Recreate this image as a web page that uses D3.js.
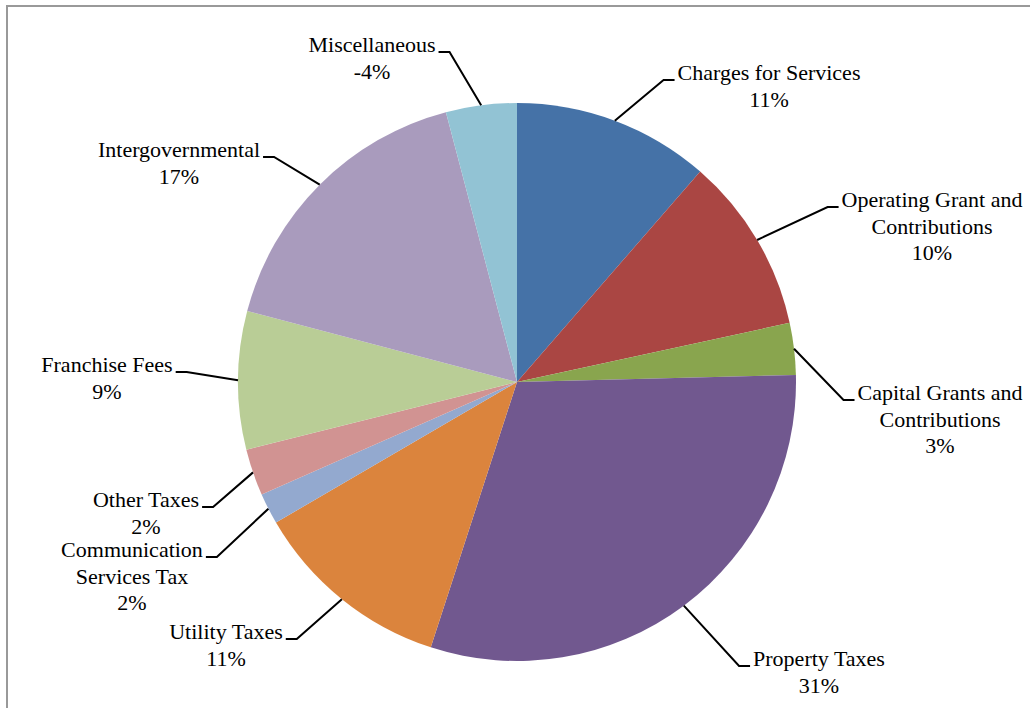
<!DOCTYPE html>
<html>
<head>
    <meta charset="UTF-8">
    <script src="https://cdnjs.cloudflare.com/ajax/libs/d3/7.8.5/d3.js"></script>
</head>
<body style="margin:0">
    <svg width="1030" height="708"></svg>

    <script>
        // slices clockwise from 12 o'clock
        const categories = [
            "Charges for Services", "Operating Grant and Contributions", "Capital Grants and Contributions",
            "Property Taxes", "Utility Taxes", "Communication Services Tax", "Other Taxes",
            "Franchise Fees", "Intergovernmental", "Miscellaneous"
        ];
        const shares = [11.4, 10.2, 3.0, 30.4, 11.6, 1.8, 2.7, 8.0, 16.8, -4.1];
        const pctLabels = ["11%", "10%", "3%", "31%", "11%", "2%", "2%", "9%", "17%", "-4%"];
        const labelLines = [
            ["Charges for Services"],
            ["Operating Grant and", "Contributions"],
            ["Capital Grants and", "Contributions"],
            ["Property Taxes"],
            ["Utility Taxes"],
            ["Communication", "Services Tax"],
            ["Other Taxes"],
            ["Franchise Fees"],
            ["Intergovernmental"],
            ["Miscellaneous"]
        ];
        const colors = ["#4572A7", "#AA4643", "#89A54E", "#71588F", "#DB843D",
                        "#93A9CF", "#D19392", "#B9CD96", "#A99BBD", "#92C3D4"];

        // label layout: text centre x, first baseline y
        const labelAt = [
            [769, 80], [932, 207], [940, 400], [819, 666], [226, 639],
            [132, 557], [146, 507], [107, 372], [179, 157], [372, 52]
        ];

        const svg = d3.select("svg");
        const cx = 517, cy = 382, r = 279, lineH = 26.5;

        svg.append("rect")
            .attr("x", 7).attr("y", 6)
            .attr("width", 1100).attr("height", 800)
            .attr("fill", "none")
            .attr("stroke", "#999")
            .attr("stroke-width", 2);

        const data = categories.map((c, i) => ({ name: c, value: shares[i], i: i }));

        const pie = d3.pie()
            .value(d => Math.abs(d.value))
            .sort(null);
        const arc = d3.arc().innerRadius(0).outerRadius(r);
        const arcs = pie(data);

        const g = svg.append("g").attr("transform", `translate(${cx},${cy})`);
        g.selectAll("path.slice")
            .data(arcs)
            .enter()
            .append("path")
            .attr("class", "slice")
            .attr("d", arc)
            .attr("fill", d => colors[d.data.i]);

        // labels, one text element per line, straight on the svg
        arcs.forEach(a => {
            const i = a.data.i;
            const [lx, ly] = labelAt[i];
            const lines = labelLines[i].concat([pctLabels[i]]);
            let first = 0;
            lines.forEach((s, k) => {
                const t = svg.append("text")
                    .attr("x", lx)
                    .attr("y", ly + k * lineH)
                    .attr("text-anchor", "middle")
                    .style("font-family", "'Liberation Serif'", "important")
                    .style("font-size", "22px", "important")
                    .style("fill", "#000")
                    .text(s);
                if (k === 0) first = t.node().getComputedTextLength();
            });

            // leader line: arc edge -> elbow -> beside first line
            const mid = (a.startAngle + a.endAngle) / 2;
            const px = cx + r * Math.sin(mid), py = cy - r * Math.cos(mid);
            const leftSide = lx < cx;
            const edge = leftSide ? lx + first / 2 + 3 : lx - first / 2 - 3;
            const elbow = leftSide ? edge + 11 : edge - 11;
            svg.append("path")
                .attr("d", d3.line()([[edge, ly], [elbow, ly], [px, py]]))
                .attr("fill", "none")
                .attr("stroke", "#000")
                .attr("stroke-width", 2);
        });
    </script>
</body>
</html>
